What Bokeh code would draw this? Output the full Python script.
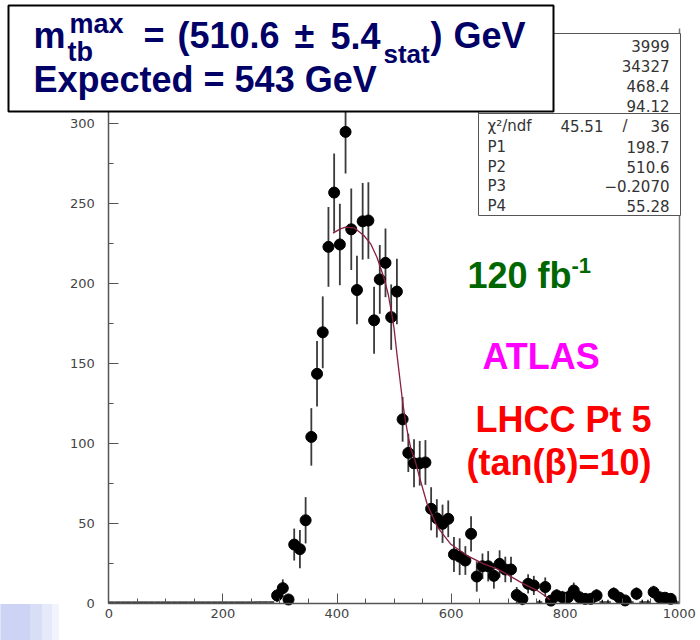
import numpy as np
from bokeh.plotting import figure
from bokeh.models import Range1d, FixedTicker, BoxAnnotation, Label, LinearAxis
from bokeh.embed import file_html
from bokeh.resources import INLINE

W, H = 700, 640

# ---- histogram: m_tb spectrum, 10 GeV bins from 0 to 1000 GeV ----
bin_width = 10.0
bin_centers = np.arange(5.0, 1000.0, bin_width)

counts = [0.0] * 29 + [
    4.7, 9.3, 2.2, 36.6, 33.7, 51.8, 104.0,                      # 295-355
    143.5, 169.5, 223.0, 257.0, 224.5, 295.0, 234.0, 196.0, 239.0, 239.5,  # 365-455
    177.0, 202.6, 213.0, 179.0, 195.0, 115.0, 94.0, 87.5, 87.5, 88.0,      # 465-555
    59.0, 53.0, 49.6, 52.7, 30.4, 29.0, 26.6, 43.3, 16.6, 23.0,            # 565-655
    23.0, 17.0, 24.5, 21.0, 21.0, 5.0, 2.6, 12.0, 11.0, 0.0,               # 665-755
    10.0, 1.5, 4.7, 3.6, 3.6, 7.8, 3.6, 2.6, 2.6, 4.7,                     # 765-855
    0.0, 0.0, 5.8, 3.3, 1.6, 0.0, 5.8, 0.0, 0.0, 6.8,                      # 865-955
    3.6, 3.3, 2.6, 0.0,                                                    # 965-995
]

errors = [0.0] * 29 + [
    4.0, 5.5, 3.0, 10.0, 12.0, 14.5, 18.0,
    20.5, 22.5, 25.0, 24.5, 25.5, 26.0, 25.5, 21.5, 24.0, 24.0,
    21.0, 21.5, 21.5, 20.5, 20.5, 14.0, 12.0, 15.0, 14.0, 14.0,
    13.5, 12.0, 12.0, 11.5, 11.0, 11.5, 9.0, 11.0, 9.5, 8.0,
    9.5, 8.0, 8.5, 8.0, 8.0, 5.0, 4.0, 6.0, 6.0, 2.0,
    6.0, 3.0, 4.0, 4.0, 4.0, 5.0, 4.0, 3.0, 3.0, 4.0,
    2.0, 2.0, 4.0, 3.0, 2.5, 2.0, 4.0, 2.0, 2.0, 4.0,
    3.0, 3.0, 3.0, 2.0,
]

# ---- fitted edge function, sampled over the fit range ----
fit_x = [393, 406, 415, 430, 447, 459, 470, 482, 490, 496, 500, 505, 510, 515,
         520, 525, 530, 537, 546, 558, 576, 599, 628, 657, 681, 705, 727, 751,
         768, 773]
fit_y = [231.6, 234.3, 235.3, 234.9, 230.1, 224.9, 216.5, 204.0, 193.0, 181.0,
         172.0, 156.0, 141.0, 126.0, 114.0, 104.0, 96.0, 89.0, 77.0, 62.0,
         47.5, 37.0, 29.7, 24.5, 21.4, 16.5, 12.0, 7.8, 3.6, 2.0]

# ---- axis ticks ----
x_major = [0, 200, 400, 600, 800, 1000]
x_minor = [50, 100, 150, 250, 300, 350, 450, 500, 550, 650, 700, 750, 850, 900, 950]
y_major = [0, 50, 100, 150, 200, 250, 300, 350]
y_minor = [25, 75, 125, 175, 225, 275, 325]

# ---- fit statistics ----
stat_top_values = ["3999", "34327", "468.4", "94.12"]
chi2_value, ndf_value = "45.51", "36"
par_names = ["P1", "P2", "P3", "P4"]
par_values = ["198.7", "510.6", "\u22120.2070", "55.28"]

counts = np.array(counts)
errors = np.array(errors)
filled = counts > 0
empty = ~filled

# plot area covers the whole page; axes are pinned to x=0 / y=0 / x=1000
X_PX = 0.5705      # pixels per GeV
Y_PX = 1.597       # pixels per entry
X0_PX, Y0_PX = 108.3, 602.5
x_range = Range1d(-X0_PX / X_PX, (W - X0_PX) / X_PX)
y_range = Range1d(-(H - Y0_PX) / Y_PX, Y0_PX / Y_PX)

p = figure(width=W, height=H, x_range=x_range, y_range=y_range,
           output_backend="svg", toolbar_location=None,
           min_border_left=0, min_border_right=0, min_border_top=0,
           min_border_bottom=0, background_fill_color="white",
           border_fill_color="white")
p.xgrid.visible = False
p.ygrid.visible = False
p.outline_line_color = None

p.xaxis.ticker = FixedTicker(ticks=x_major, minor_ticks=x_minor)
p.yaxis.ticker = FixedTicker(ticks=y_major, minor_ticks=y_minor)
p.xaxis.fixed_location = 0
p.yaxis.fixed_location = 0
p.xaxis.bounds = (0, 1000)
p.yaxis.bounds = (0, 360)

right_edge = LinearAxis(fixed_location=1000, ticker=FixedTicker(ticks=[]),
                        bounds=(0, 360), axis_line_color="#777777",
                        axis_line_width=1.5, major_label_text_font_size="0px")
p.add_layout(right_edge, "right")

for ax in (p.xaxis[0], p.yaxis[0]):
    ax.axis_line_color = "#555555"
    ax.axis_line_width = 1.5
    ax.major_tick_line_color = "#555555"
    ax.minor_tick_line_color = "#555555"
    ax.major_tick_in = 10
    ax.major_tick_out = 0
    ax.minor_tick_in = 5
    ax.minor_tick_out = 0
    ax.major_label_text_font = "DejaVu Sans"
    ax.major_label_text_font_size = "13px"
    ax.major_label_text_color = "#444444"
p.xaxis.major_label_standoff = 6
p.yaxis.major_label_standoff = 14

# empty bins: flat bin-width markers at zero
p.segment(x0=bin_centers[empty] - bin_width / 2, x1=bin_centers[empty] + bin_width / 2,
          y0=0.6, y1=0.6, line_color="black", line_width=1.3)
p.segment(x0=bin_centers[empty], x1=bin_centers[empty],
          y0=0, y1=errors[empty], line_color="black", line_width=1.3)

# filled bins: error bars and markers
p.segment(x0=bin_centers[filled], x1=bin_centers[filled],
          y0=counts[filled] - errors[filled], y1=counts[filled] + errors[filled],
          line_color="#3a3a3a", line_width=1.8)
p.scatter(bin_centers[filled], counts[filled], size=11, marker="circle",
          fill_color="black", line_color="black")

# fit curve
p.line(fit_x, fit_y, line_color="#8a1f45", line_width=1.3)


def cbox(left, top, right, bottom, **kw):
    return BoxAnnotation(left=left, right=right, top=top, bottom=bottom,
                         left_units="canvas", right_units="canvas",
                         top_units="canvas", bottom_units="canvas", **kw)


def ctext(x, y, text, size, color, font="Liberation Sans", style="bold", align="left"):
    # y is the visual baseline (pixels from the top); Bokeh places the
    # alphabetic baseline about a third of an em lower in this output.
    return Label(x=x, y=y - 0.32 * size, x_units="canvas", y_units="canvas", text=text,
                 text_font=font, text_font_size=f"{size}px", text_font_style=style,
                 text_color=color, text_align=align, text_baseline="alphabetic")


STAT = "#333333"
# statistics box
p.add_layout(cbox(478, 33, 680, 113, fill_color="white", fill_alpha=1.0,
                  line_color="#555555", line_alpha=1.0, line_width=1))
p.add_layout(cbox(478, 113, 680, 215, fill_color="white", fill_alpha=1.0,
                  line_color="#555555", line_alpha=1.0, line_width=1))
for i, v in enumerate(stat_top_values):
    p.add_layout(ctext(669, 50 + 20 * i, v, 15, STAT, font="DejaVu Sans",
                       style="normal", align="right"))
p.add_layout(ctext(487, 130, "\u03c7\u00b2/ndf", 15, STAT, font="DejaVu Sans",
                   style="normal"))
p.add_layout(ctext(560, 130, chi2_value, 15, STAT, font="DejaVu Sans", style="normal"))
p.add_layout(ctext(622, 130, "/", 15, STAT, font="DejaVu Sans", style="normal"))
p.add_layout(ctext(669, 130, ndf_value, 15, STAT, font="DejaVu Sans",
                   style="normal", align="right"))
for i, (n, v) in enumerate(zip(par_names, par_values)):
    yy = 151 + 19.8 * i
    p.add_layout(ctext(487, yy, n, 15, STAT, font="DejaVu Sans", style="normal"))
    p.add_layout(ctext(669, yy, v, 15, STAT, font="DejaVu Sans", style="normal",
                       align="right"))

# result box
NAVY = "#000066"
p.add_layout(cbox(8, 5, 553, 111, fill_color="white", fill_alpha=1.0,
                  line_color="black", line_alpha=1.0, line_width=2))
p.add_layout(ctext(33, 47, "m", 36, NAVY))
p.add_layout(ctext(67, 60, "tb", 27, NAVY))
p.add_layout(ctext(69, 32, "max", 27, NAVY))
p.add_layout(ctext(143, 47, "=", 36, NAVY))
p.add_layout(ctext(177, 47, "(510.6", 36, NAVY))
p.add_layout(ctext(294, 47, "\u00b1", 36, NAVY))
p.add_layout(ctext(330, 47, "5.4", 36, NAVY))
p.add_layout(ctext(383, 62, "stat", 26, NAVY))
p.add_layout(ctext(430, 47, ")", 36, NAVY))
p.add_layout(ctext(453, 47, "GeV", 36, NAVY))
p.add_layout(ctext(33, 91, "Expected = 543 GeV", 36, NAVY))

# annotations on the plot
p.add_layout(ctext(467, 287, "120 fb", 36, "#006600"))
p.add_layout(ctext(571, 272, "-1", 22, "#006600"))
p.add_layout(ctext(482, 368, "ATLAS", 36, "#ff00ff"))
p.add_layout(ctext(475, 431, "LHCC Pt 5", 36, "#ff0000"))
p.add_layout(ctext(466, 474, "(tan(\u03b2)=10)", 36, "#ff0000"))

# pale slide-background corner, fading to white towards the right
shade_edges = [0, 30, 42, 52, 58]
shades = ["#ccd3f4", "#d9def7", "#e6e9fa", "#f2f4fd"]
for l, r, c in zip(shade_edges[:-1], shade_edges[1:], shades):
    p.add_layout(cbox(l, 604, r, 640, fill_color=c, fill_alpha=1.0,
                      line_color=c, line_alpha=1.0, line_width=1, level="underlay"))

open("out.html", "w").write(file_html(p, INLINE))
